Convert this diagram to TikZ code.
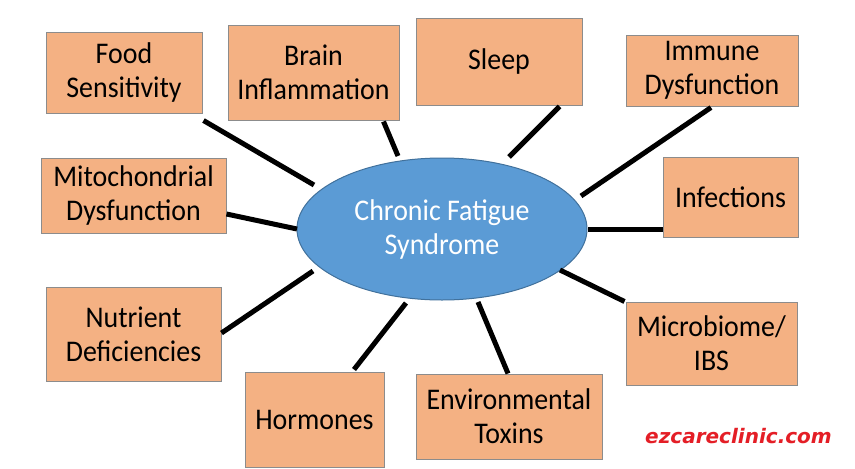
\documentclass[tikz,border=0pt]{standalone}
\usepackage{fontspec}
\setmainfont{Carlito}[FakeStretch=0.93]
\newfontfamily\wmfont{DejaVu Sans}
\usetikzlibrary{calc,shapes.geometric}
\definecolor{boxfill}{HTML}{F4B183}
\definecolor{boxline}{HTML}{8C8C8C}
\definecolor{ellfill}{HTML}{5B9BD5}
\definecolor{ellline}{HTML}{41719C}
\definecolor{wmred}{HTML}{E41E26}
\tikzset{
  factor/.style={rectangle, draw=boxline, fill=boxfill, line width=1pt, inner sep=0pt,
    align=center, text=black, font=\fontsize{30}{34}\selectfont},
  hub/.style={ellipse, draw=ellline, fill=ellfill, line width=1pt, inner sep=0pt,
    align=center, text=white, font=\fontsize{30}{34}\selectfont},
  link/.style={draw=black, line width=5pt},
  mark text/.style={text=wmred, font=\wmfont\bfseries\itshape\fontsize{20}{24}\selectfont}
}
\begin{document}
\begin{tikzpicture}[x=1pt,y=-1pt]
\useasboundingbox (0,0) rectangle (855,469);
\fill[white] (0,0) rectangle (855,469);

\node[hub, minimum width=290, minimum height=142] (cfs) at (442,229) {Chronic Fatigue\\Syndrome};

\node[factor, minimum width=156, minimum height=81] (food) at (124,72.5) {Food\\Sensitivity};
\node[factor, minimum width=171, minimum height=95] (brain) at (313.5,72.5) {Brain\\Inflammation};
\node[factor, minimum width=166, minimum height=87] (sleep) at (499,61.5) {Sleep};
\node[factor, minimum width=172, minimum height=71] (immune) at (712,70.5) {Immune\\Dysfunction};
\node[factor, minimum width=135, minimum height=80] (infect) at (730.5,197) {Infections};
\node[factor, minimum width=185, minimum height=75] (mito) at (133.5,195.5) {Mitochondrial\\Dysfunction};
\node[factor, minimum width=175, minimum height=94] (nutri) at (133.5,334) {Nutrient\\Deficiencies};
\node[factor, minimum width=139, minimum height=95] (horm) at (314.5,419.5) {Hormones};
\node[factor, minimum width=186, minimum height=85] (env) at (509,416.5) {Environmental\\Toxins};
\node[factor, minimum width=171, minimum height=83] (micro) at (711.5,343.5) {Microbiome/\\IBS};

\draw[link] ($(food.south east)+(1,7)$) -- ($(cfs.center)+(-128,-44)$);
\draw[link] ($(brain.south east)+(-16,1)$) -- ($(cfs.center)+(-44,-73)$);
\draw[link] ($(sleep.south east)+(-23,1)$) -- ($(cfs.center)+(67,-72)$);
\draw[link] ($(immune.south)+(-1,1)$) -- ($(cfs.center)+(139,-33)$);
\draw[link] ($(infect.west)+(0,32)$) -- ($(cfs.center)+(146,0)$);
\draw[link] ($(mito.east)+(0,18.5)$) -- ($(cfs.center)+(-145,0)$);
\draw[link] ($(nutri.east)+(0,-1)$) -- ($(cfs.center)+(-129,42)$);
\draw[link] ($(horm.north)+(39.5,-2)$) -- ($(cfs.center)+(-36,74)$);
\draw[link] ($(env.north)+(-1,0)$) -- ($(cfs.center)+(36,73)$);
\draw[link] ($(micro.north west)+(-1,0)$) -- ($(cfs.center)+(118,41)$);

\node[mark text, anchor=base] (wm) at (738.5,443) {ezcareclinic.com};
\end{tikzpicture}
\end{document}
